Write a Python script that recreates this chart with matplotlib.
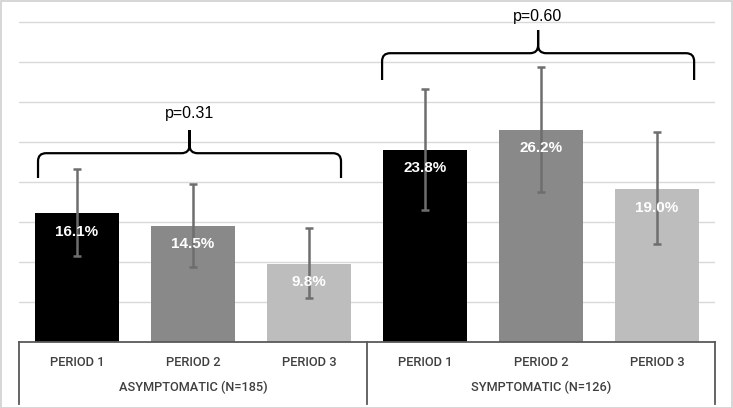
import numpy as np
import matplotlib.pyplot as plt
from matplotlib.path import Path
from matplotlib.patches import PathPatch, Rectangle

# data
groups = ['ASYMPTOMATIC (N=185)', 'SYMPTOMATIC (N=126)']
periods = ['PERIOD 1', 'PERIOD 2', 'PERIOD 3']
values = [16.1, 14.5, 9.8, 23.8, 26.2, 19.0]
bar_heights = [16.1, 14.5, 9.75, 24.0, 26.5, 19.1]
err_low = [10.8, 9.4, 5.45, 16.5, 18.7, 12.2]
err_high = [21.6, 19.8, 14.2, 31.6, 34.4, 26.2]
p_values = ['p=0.31', 'p=0.60']

bar_colors = ['#000000', '#898989', '#bdbdbd'] * 2
axis_font = ['Roboto', 'DejaVu Sans']

fig = plt.figure(figsize=(7.33, 4.08), dpi=100)
ax = fig.add_axes([19 / 733, 66 / 408, 696 / 733, 340 / 408])

x = np.arange(len(values))
ax.bar(x, bar_heights, width=0.72, color=bar_colors, zorder=2)
centers = np.array(bar_heights)
yerr = [centers - np.array(err_low), np.array(err_high) - centers]
ax.errorbar(x, centers, yerr=yerr, fmt='none', ecolor='#6e6e6e',
            elinewidth=1.8, capsize=3, capthick=1.8, zorder=3)

for xi, h, v in zip(x, bar_heights, values):
    ax.text(xi, h - 2.3, f'{v:.1f}%', ha='center', va='center', color='white',
            fontsize=11, fontweight='bold', family='Liberation Sans', zorder=4)

ax.set_xlim(-0.5, 5.5)
ax.set_ylim(0, 42.5)
ax.set_yticks(np.arange(5, 45, 5))
ax.yaxis.grid(True, color='#d9d9d9', linewidth=1)
ax.set_axisbelow(True)
ax.tick_params(left=False, labelleft=False, bottom=False, labelbottom=False)
for s in ax.spines.values():
    s.set_visible(False)

# category axis
trans = ax.get_xaxis_transform()
ax.plot([-0.5, 5.5], [0, 0], color='#595959', lw=1.3, transform=trans, clip_on=False)
for xs in [-0.5, 2.5, 5.5]:
    ax.plot([xs, xs], [0, -0.182], color='#595959', lw=1.3, transform=trans, clip_on=False)
for i in range(len(values)):
    ax.text(i, -0.059, periods[i % 3], ha='center', va='center', color='#404040',
            fontsize=9.3, fontweight='medium', family=axis_font, transform=trans)
for g, name in enumerate(groups):
    ax.text(3 * g + 1, -0.135, name, ha='center', va='center', color='#404040',
            fontsize=9.2, fontweight='medium', family=axis_font, transform=trans)


def brace(x0, x1, y_end, y_line, y_tip, rx=0.07, ry=1.0):
    xc = (x0 + x1) / 2
    verts = [(x0, y_end), (x0, y_line - ry), (x0, y_line), (x0 + rx, y_line),
             (xc - rx, y_line), (xc, y_line), (xc, y_line + ry), (xc, y_tip),
             (xc, y_line + ry), (xc, y_line), (xc + rx, y_line),
             (x1 - rx, y_line), (x1, y_line), (x1, y_line - ry), (x1, y_end)]
    codes = [Path.MOVETO, Path.LINETO, Path.CURVE3, Path.CURVE3,
             Path.LINETO, Path.CURVE3, Path.CURVE3, Path.LINETO,
             Path.LINETO, Path.CURVE3, Path.CURVE3,
             Path.LINETO, Path.CURVE3, Path.CURVE3, Path.LINETO]
    ax.add_patch(PathPatch(Path(verts, codes), fill=False, lw=1.6,
                           color='black', capstyle='butt', clip_on=False, zorder=5))


brace(-0.336, 2.276, 20.5, 23.6, 26.5)
brace(2.63, 5.32, 32.75, 36.1, 39.0)
ax.text(0.97, 28.6, p_values[0], ha='center', va='center', fontsize=11.5,
        family='Liberation Sans', clip_on=False)
ax.text(3.97, 40.7, p_values[1], ha='center', va='center', fontsize=11.5,
        family='Liberation Sans', clip_on=False)

# light frame round the picture
fig.patches.append(Rectangle((0.001, 0.001), 0.997, 0.997, transform=fig.transFigure,
                             fill=False, edgecolor='#d0d0d0', lw=1.2))

fig.savefig('out.png', dpi=100)
